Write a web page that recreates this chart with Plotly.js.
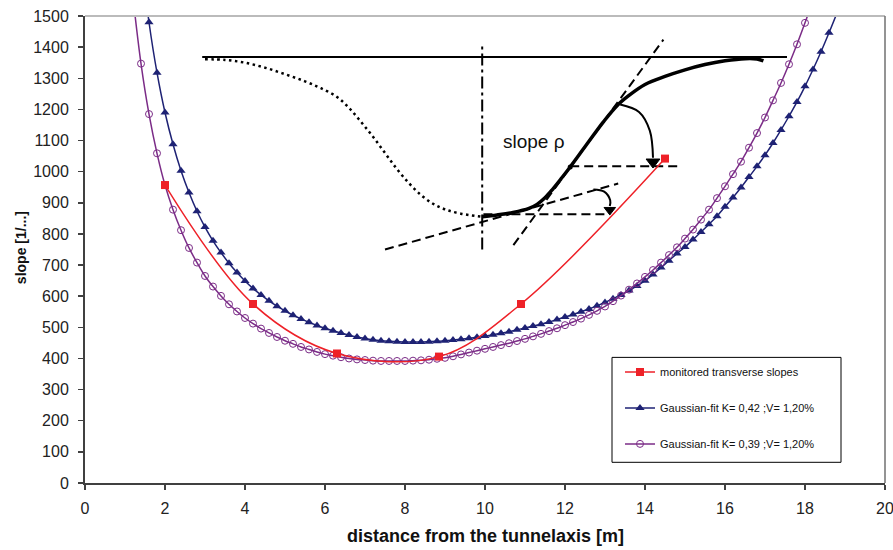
<!DOCTYPE html>
<html>
<head>
<meta charset="utf-8">
<script src="https://cdn.plot.ly/plotly-3.0.1.min.js"></script>
<style>html,body{margin:0;padding:0;background:#fff;}#chart{width:893px;height:550px;}</style>
</head>
<body>
<div id="chart"></div>
<script>
// ---------- data ----------
const seriesNames = ["monitored transverse slopes", "Gaussian-fit K= 0,42 ;V= 1,20%", "Gaussian-fit K= 0,39 ;V= 1,20%"];

const monitoredX = [2.0, 4.2, 6.3, 8.85, 10.9, 14.5];
const monitoredY = [957, 575, 416, 406, 575, 1042];

const fit042X = [1.4,1.6,1.8,2.0,2.2,2.4,2.6,2.8,3.0,3.2,3.4,3.6,3.8,4.0,4.2,4.4,4.6,4.8,5.0,5.2,5.4,5.6,5.8,6.0,6.2,6.4,6.6,6.8,7.0,7.2,7.4,7.6,7.8,8.0,8.2,8.4,8.6,8.8,9.0,9.2,9.4,9.6,9.8,10.0,10.2,10.4,10.6,10.8,11.0,11.2,11.4,11.6,11.8,12.0,12.2,12.4,12.6,12.8,13.0,13.2,13.4,13.6,13.8,14.0,14.2,14.4,14.6,14.8,15.0,15.2,15.4,15.6,15.8,16.0,16.2,16.4,16.6,16.8,17.0,17.2,17.4,17.6,17.8,18.0,18.2,18.4,18.6,18.8,19.0];
const fit042Y = [1690,1480,1318,1190,1088,1003,933,873,822,778,740,706,676,649,625,604,585,568,553,539,527,516,506,497,489,482,475,469,464,460,457,455,454,453,453,453,454,455,457,459,462,465,468,472,476,481,486,492,498,504,510,517,525,533,541,550,559,569,580,592,604,618,633,650,670,692,714,737,758,782,806,831,857,887,917,949,983,1017,1053,1092,1134,1178,1224,1274,1328,1385,1446,1510,1580];

const fit039X = [1.2,1.4,1.6,1.8,2.0,2.2,2.4,2.6,2.8,3.0,3.2,3.4,3.6,3.8,4.0,4.2,4.4,4.6,4.8,5.0,5.2,5.4,5.6,5.8,6.0,6.2,6.4,6.6,6.8,7.0,7.2,7.4,7.6,7.8,8.0,8.2,8.4,8.6,8.8,9.0,9.2,9.4,9.6,9.8,10.0,10.2,10.4,10.6,10.8,11.0,11.2,11.4,11.6,11.8,12.0,12.2,12.4,12.6,12.8,13.0,13.2,13.4,13.6,13.8,14.0,14.2,14.4,14.6,14.8,15.0,15.2,15.4,15.6,15.8,16.0,16.2,16.4,16.6,16.8,17.0,17.2,17.4,17.6,17.8,18.0,18.2];
const fit039Y = [1560,1347,1185,1059,957,878,812,755,708,665,631,601,574,551,530,512,496,482,469,457,447,437,429,421,414,409,404,400,397,395,393,392,392,392,392,393,394,396,399,402,407,413,419,425,431,437,443,449,456,463,471,479,488,497,507,517,528,540,553,567,584,602,621,641,662,684,708,732,757,785,814,846,878,915,953,992,1032,1077,1124,1174,1229,1285,1345,1409,1478,1550];

const xTickVals = [0,2,4,6,8,10,12,14,16,18,20];
const yTickVals = [0,100,200,300,400,500,600,700,800,900,1000,1100,1200,1300,1400,1500];

// ---------- schematic sketch inside the chart ----------
const sketchTopX = [2.93, 17.55];
const sketchTopY = [1368, 1368];
const sketchDotX = [3.0, 3.5, 4.0, 4.5, 5.0, 5.5, 5.9, 6.3, 6.6, 6.9, 7.2, 7.5, 7.8, 8.1, 8.4, 8.7, 9.0, 9.4, 9.93];
const sketchDotY = [1361, 1359, 1350, 1334, 1313, 1290, 1268, 1240, 1205, 1160, 1112, 1060, 1008, 963, 925, 897, 879, 865, 855];
const sketchAxisX = [9.93, 9.93];
const sketchAxisY = [750, 1411];
const sketchCurveX = [9.93, 10.3, 10.7, 11.1, 11.3, 11.5, 11.7, 11.9, 12.13, 12.54, 12.96, 13.3, 13.6, 14.0, 14.5, 15.0, 15.5, 16.0, 16.5, 16.8, 16.96];
const sketchCurveY = [855, 861, 869, 882, 895, 916, 945, 977, 1015, 1087, 1160, 1212, 1245, 1280, 1306, 1327, 1344, 1356, 1363, 1362, 1356];
const tangentSteepX = [10.71, 14.46];
const tangentSteepY = [764, 1424];
const tangentFlatX = [7.5, 13.33];
const tangentFlatY = [750, 962];
const levelLowX = [9.96, 13.12];
const levelLowY = [863, 863];
const levelHighX = [12.13, 14.85];
const levelHighY = [1017, 1017];
const arrowBigX = [13.38, 13.85, 14.12, 14.2];
const arrowBigY = [1216, 1192, 1132, 1045];
const arrowBigHead = {x: 14.2, y: 1031};
const arrowSmallX = [12.71, 12.98, 13.13, 13.12];
const arrowSmallY = [943, 936, 908, 890];
const arrowSmallHead = {x: 13.12, y: 877};
const contactPoint = {x: 12.13, y: 1015};
const slopeLabel = {text: "slope ρ", x: 11.23, y: 1097};

// ---------- colours ----------
const cRed = "#EE2128", cBlue = "#1E2274", cPurple = "#7B2C87";
const FONT = "Liberation Sans, Arial, sans-serif";

function sketchLine(x, y, w, dash, shape) {
  return {x: x, y: y, type: "scatter", mode: "lines", showlegend: false, hoverinfo: "skip",
          line: {color: "#000", width: w, dash: dash || "solid", shape: shape || "linear"}};
}

const traces = [
  sketchLine(sketchTopX, sketchTopY, 2),
  sketchLine(sketchDotX, sketchDotY, 2.5, "2.5px,3.5px", "spline"),
  sketchLine(sketchAxisX, sketchAxisY, 2, "12px,4px,3px,4px"),
  sketchLine(tangentSteepX, tangentSteepY, 2, "9px,5px"),
  sketchLine(tangentFlatX, tangentFlatY, 2, "9px,5px"),
  sketchLine(levelLowX, levelLowY, 2, "9px,5px"),
  sketchLine(levelHighX, levelHighY, 2, "9px,5px"),
  sketchLine(sketchCurveX, sketchCurveY, 3.5, "solid", "spline"),
  sketchLine(arrowBigX, arrowBigY, 2, "solid", "spline"),
  sketchLine(arrowSmallX, arrowSmallY, 2, "solid", "spline"),
  {x: [arrowBigHead.x], y: [arrowBigHead.y], type: "scatter", mode: "markers",
   showlegend: false, hoverinfo: "skip",
   marker: {symbol: "triangle-down", size: 12, opacity: 1, color: "#000", line: {color: "#000", width: 1}}},
  {x: [arrowSmallHead.x], y: [arrowSmallHead.y], type: "scatter", mode: "markers",
   showlegend: false, hoverinfo: "skip",
   marker: {symbol: "triangle-down", size: 10, opacity: 1, color: "#000", line: {color: "#000", width: 1}}},
  {x: [contactPoint.x], y: [contactPoint.y], type: "scatter", mode: "markers", showlegend: false, hoverinfo: "skip",
   marker: {symbol: "circle", size: 5, color: "#000"}},
  {x: fit042X, y: fit042Y, name: seriesNames[1], type: "scatter", mode: "lines+markers",
   legendgroup: "b", legendrank: 2,
   line: {color: cBlue, width: 1.5, shape: "spline"},
   marker: {symbol: "triangle-up", size: 8, color: cBlue}},
  {x: fit039X, y: fit039Y, name: seriesNames[2], type: "scatter", mode: "lines+markers",
   legendgroup: "c", legendrank: 3,
   line: {color: cPurple, width: 1.5, shape: "spline"},
   marker: {symbol: "circle-open", size: 7, color: cPurple, line: {width: 1, color: cPurple}}},
  {x: monitoredX, y: monitoredY, name: seriesNames[0], type: "scatter", mode: "lines+markers",
   legendgroup: "a", legendrank: 1,
   line: {color: cRed, width: 1.5, shape: "spline", smoothing: 1},
   marker: {symbol: "square", size: 8, color: cRed}}
];

const layout = {
  width: 893, height: 550,
  margin: {l: 85, r: 8, t: 16, b: 67},
  paper_bgcolor: "#fff", plot_bgcolor: "#fff",
  font: {family: FONT, size: 16, color: "#222"},
  showlegend: true,
  legend: {x: 0.66875, y: 0.269, xanchor: "left", yanchor: "top",
           bgcolor: "rgba(0,0,0,0)", borderwidth: 0,
           font: {family: FONT, size: 11, color: "#111"},
           traceorder: "grouped", tracegroupgap: 17},
  xaxis: {range: [0, 20], tickvals: xTickVals, ticks: "outside", ticklen: 5, tickwidth: 1.5, tickcolor: "#404040",
          showgrid: false, zeroline: false, showline: true, linecolor: "#404040", linewidth: 2,
          tickfont: {family: FONT, size: 16, color: "#222"}, ticklabelstandoff: 5, ticklabeloverflow: "allow",
          fixedrange: true},
  yaxis: {range: [0, 1500], tickvals: yTickVals, ticks: "outside", ticklen: 5, tickwidth: 1.5, tickcolor: "#404040",
          showgrid: false, zeroline: false, showline: true, linecolor: "#404040", linewidth: 2,
          tickfont: {family: FONT, size: 16, color: "#222"}, ticklabelstandoff: 6, ticklabeloverflow: "allow",
          fixedrange: true},
  shapes: [
    {type: "line", xref: "paper", yref: "paper", x0: 0, x1: 1, y0: 1, y1: 1, line: {color: "#BBBBBB", width: 2}},
    {type: "line", xref: "paper", yref: "paper", x0: 1, x1: 1, y0: 0, y1: 1, line: {color: "#707070", width: 1.5}},
    {type: "rect", xref: "paper", yref: "paper", x0: 0.65875, x1: 0.945, y0: 0.0443, y1: 0.269, layer: "below",
     fillcolor: "#fff", line: {color: "#000", width: 1}}
  ],
  annotations: [
    {text: "distance from the tunnelaxis [m]", xref: "paper", yref: "paper", x: 0.5, y: -0.114,
     xanchor: "center", yanchor: "middle", showarrow: false, font: {family: FONT, size: 18, color: "#111", weight: "bold"}},
    {text: "slope [1/...]", xref: "paper", yref: "paper", x: -0.0806, y: 0.504, textangle: -90,
     xanchor: "center", yanchor: "middle", showarrow: false, font: {family: FONT, size: 14, color: "#111", weight: "bold"}},
    {text: slopeLabel.text, x: slopeLabel.x, y: slopeLabel.y, xref: "x", yref: "y", showarrow: false,
     xanchor: "center", yanchor: "middle", font: {family: FONT, size: 19, color: "#111"}}
  ]
};

Plotly.newPlot("chart", traces, layout, {displayModeBar: false, staticPlot: true});
</script>
</body>
</html>
